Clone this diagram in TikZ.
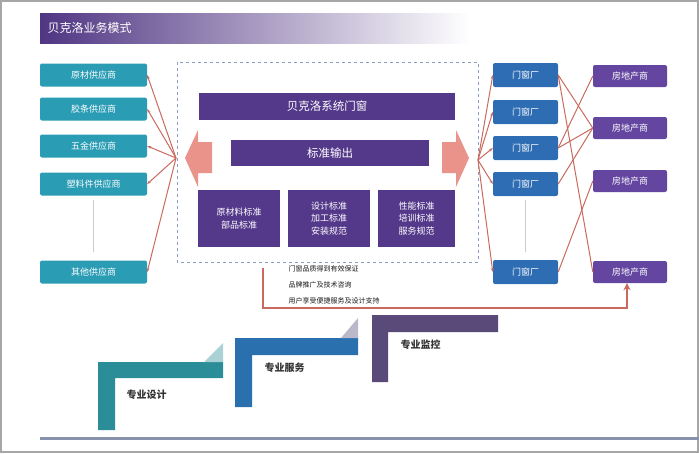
\documentclass[tikz,border=0pt]{standalone}
\usepackage{fontspec}
\setmainfont{Noto Sans CJK SC}
\usetikzlibrary{arrows.meta}
\definecolor{supplier}{HTML}{2A9CB4}
\definecolor{factory}{HTML}{2E6DB4}
\definecolor{estate}{HTML}{6446A0}
\definecolor{core}{HTML}{54388A}
\definecolor{link}{HTML}{C96A5E}
\definecolor{bigarrow}{HTML}{E9938A}
\definecolor{frame}{HTML}{8A9CC0}
\definecolor{stepteal}{HTML}{2A8D98}
\definecolor{stepblue}{HTML}{2A6FAE}
\definecolor{steppurple}{HTML}{5A4A7A}
\begin{document}
\begin{tikzpicture}[x=1pt, y=-1pt,
    base/.style={rectangle, rounded corners=2pt, text=white, inner sep=0pt, font=\fontsize{9}{10}\selectfont},
    supplier/.style={base, minimum width=107pt, minimum height=23pt, fill=supplier},
    factory/.style={base, minimum width=65pt, minimum height=24pt, fill=factory},
    estate/.style={base, minimum width=74pt, minimum height=22pt, fill=estate},
    core/.style={base, rounded corners=0pt, fill=core, font=\fontsize{11.5}{12}\selectfont},
    stdbox/.style={core, minimum height=57pt, align=center, font=\fontsize{9}{12.5}\selectfont},
    link/.style={draw=link, line width=1pt, -{Stealth[length=4pt]}},
    dots/.style={draw=gray!40, line width=0.6pt, shorten <=4pt, shorten >=8pt}]
  \useasboundingbox (0,0) rectangle (699,453);
  \draw[gray!70, line width=2pt] (1,1) rectangle (698,452);
  % title bar
  \shade[left color=core!95!black, right color=white] (40,13) rectangle (470,43);
  \node[anchor=west, text=white, font=\fontsize{12}{14}\selectfont] (title) at (44,28) {贝克洛业务模式};
  % suppliers
  \node[supplier] (s1) at (93.5,75) {原材供应商};
  \node[supplier] (s2) at (93.5,109) {胶条供应商};
  \node[supplier] (s3) at (93.5,146) {五金供应商};
  \node[supplier] (s4) at (93.5,184) {塑料件供应商};
  \node[supplier] (s5) at (93.5,272) {其他供应商};
  \draw[dots] (s4.south) -- (s5.north);
  % core
  \draw[frame, dashed, line width=1pt] (177,62) rectangle (478,262);
  \node[core, minimum width=256pt, minimum height=27pt] (portal) at (327,106.5) {贝克洛系统门窗};
  \node[core, minimum width=198pt, minimum height=26pt] (output) at (330,153) {标准输出};
  \node[stdbox, minimum width=82pt] (std1) at (239,218.5) {原材料标准\\部品标准};
  \node[stdbox, minimum width=82pt] (std2) at (329,218.5) {设计标准\\加工标准\\安装规范};
  \node[stdbox, minimum width=77pt] (std3) at (416.5,218.5) {性能标准\\培训标准\\服务规范};
  \fill[bigarrow] (185,158) -- (198,130) -- (198,142) -- (212,142) -- (212,173) -- (198,173) -- (198,187) -- cycle;
  \fill[bigarrow] (469,158) -- (456,130) -- (456,142) -- (442,142) -- (442,173) -- (456,173) -- (456,187) -- cycle;
  \coordinate (lhub) at (176,158);
  \coordinate (rhub) at (478,160);
  % door factories
  \node[factory] (f1) at (525.5,75) {门窗厂};
  \node[factory] (f2) at (525.5,112) {门窗厂};
  \node[factory] (f3) at (525.5,148) {门窗厂};
  \node[factory] (f4) at (525.5,184) {门窗厂};
  \node[factory] (f5) at (525.5,272) {门窗厂};
  \draw[dots] (f4.south) -- (f5.north);
  % estate
  \node[estate] (e1) at (630,76) {房地产商};
  \node[estate] (e2) at (630,128) {房地产商};
  \node[estate] (e3) at (630,181) {房地产商};
  \node[estate] (e4) at (630,272) {房地产商};
  % links
  \foreach \s in {s1,s2,s3,s4,s5}
    \draw[link] (lhub) -- (\s.east);
  \foreach \f in {f1,f2,f3,f4,f5}
    \draw[link] (rhub) -- (\f.west);
  \foreach \f/\e in {f1/e2, f1/e4, f3/e1, f3/e2, f4/e2, f5/e3}
    \draw[link, -] (\f.east) -- (\e.west);
  % feedback
  \coordinate (fb) at (263,268);
  \coordinate (fbturn) at (627,308);
  \draw[link, line width=1.6pt, -{Stealth[length=7pt, width=7pt]}] (fb) |- (fbturn) -- (fbturn |- e4.south);
  \node[anchor=north west, text=gray!20!black, align=left, font=\fontsize{7}{16}\selectfont] (gain) at (285,262)
    {门窗品质得到有效保证\\品牌推广及技术咨询\\用户享受便捷服务及设计支持};
  % steps
  \fill[stepteal] (98,362) -- (223,362) -- (223,378) -- (115,378) -- (115,430) -- (98,430) -- cycle;
  \fill[stepteal!40] (223,343) -- (223,362) -- (204,362) -- cycle;
  \node[anchor=west, text=gray!40!black, font=\bfseries\fontsize{10}{12}\selectfont] (design) at (123,395) {专业设计};
  \fill[stepblue] (235,338) -- (358,338) -- (358,355) -- (252,355) -- (252,407) -- (235,407) -- cycle;
  \fill[steppurple!40] (358,318) -- (358,338) -- (341,338) -- cycle;
  \node[anchor=west, text=gray!40!black, font=\bfseries\fontsize{10}{12}\selectfont] (service) at (261,368) {专业服务};
  \fill[steppurple] (372,315) -- (498,315) -- (498,332) -- (388,332) -- (388,382) -- (372,382) -- cycle;
  \node[anchor=west, text=gray!40!black, font=\bfseries\fontsize{10}{12}\selectfont] (monitor) at (397,345) {专业监控};
  \fill[frame!70!gray] (40,437) rectangle (699,440);
\end{tikzpicture}
\end{document}
